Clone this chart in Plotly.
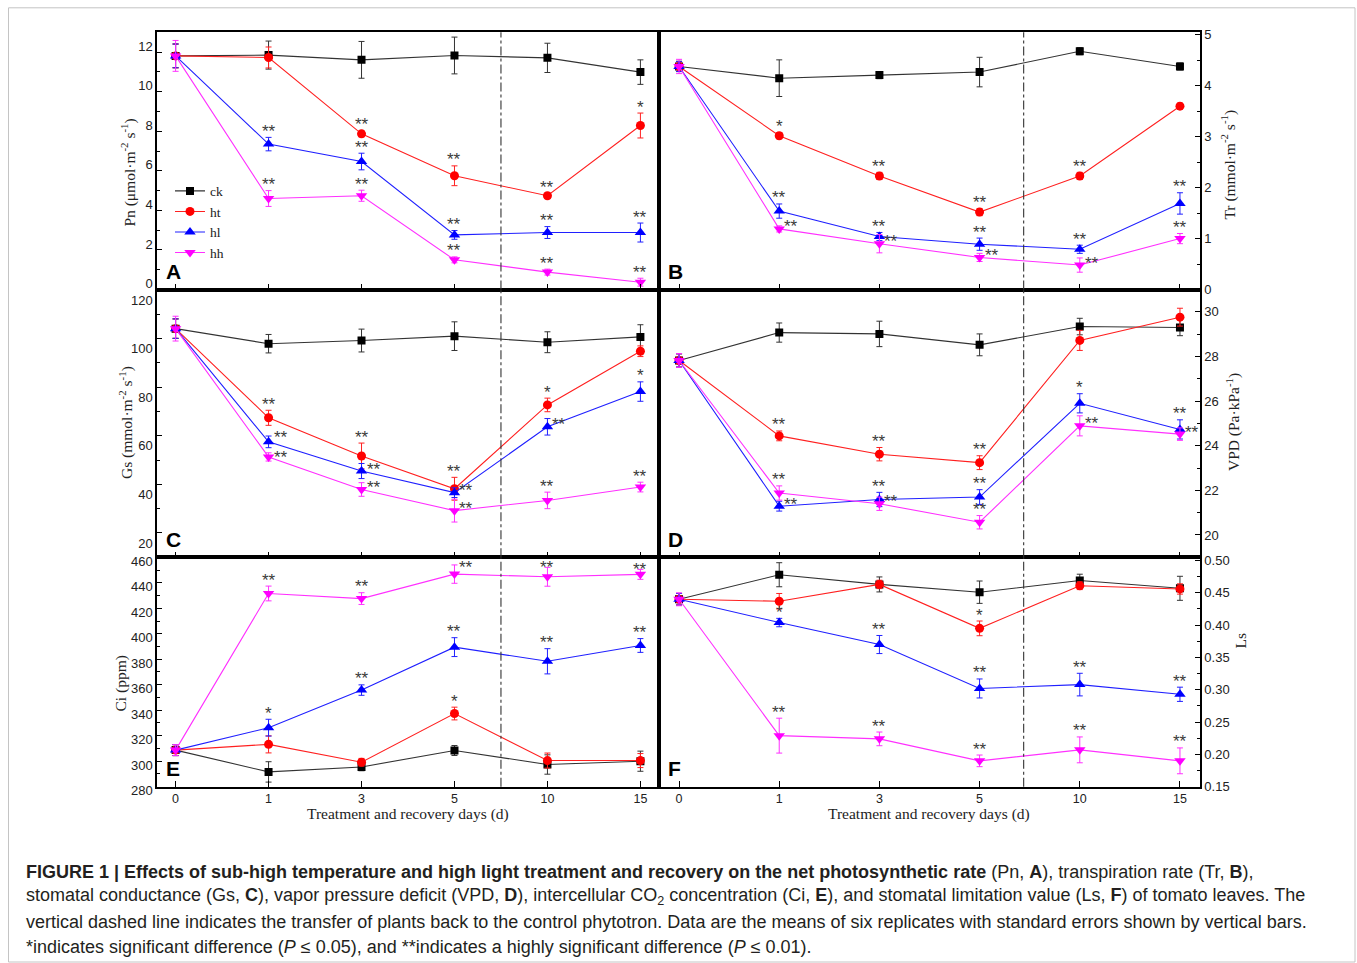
import plotly.graph_objects as go

# ---------------- data ----------------
days = ["0", "1", "3", "5", "10", "15"]
treatments = ["ck", "ht", "hl", "hh"]

# Pn (umol m-2 s-1)
pn_ck = [11.81, 11.85, 11.61, 11.83, 11.71, 10.99]
pn_ht = [11.81, 11.73, 7.87, 5.75, 4.74, 8.29]
pn_hl = [11.81, 7.35, 6.47, 2.76, 2.88, 2.88]
pn_hh = [11.81, 4.60, 4.74, 1.50, 0.88, 0.37]
pn_ck_se = [0.60, 0.71, 0.93, 0.93, 0.74, 0.62]
pn_ht_se = [0.60, 0.53, 0.15, 0.50, 0.13, 0.63]
pn_hl_se = [0.60, 0.34, 0.42, 0.22, 0.30, 0.48]
pn_hh_se = [0.78, 0.40, 0.28, 0.15, 0.15, 0.20]
pn_ht_sig = ["", "", "**", "**", "**", "*"]
pn_hl_sig = ["", "**", "**", "**", "**", "**"]
pn_hh_sig = ["", "**", "**", "**", "**", "**"]

# Tr (mmol m-2 s-1)
tr_ck = [4.38, 4.15, 4.21, 4.27, 4.68, 4.38]
tr_ht = [4.38, 3.02, 2.23, 1.52, 2.23, 3.60]
tr_hl = [4.38, 1.54, 1.04, 0.89, 0.79, 1.69]
tr_hh = [4.38, 1.19, 0.90, 0.63, 0.48, 1.00]
tr_ck_se = [0.10, 0.36, 0.07, 0.29, 0.07, 0.07]
tr_ht_se = [0.10, 0.06, 0.07, 0.07, 0.07, 0.06]
tr_hl_se = [0.10, 0.14, 0.08, 0.12, 0.08, 0.21]
tr_hh_se = [0.14, 0.06, 0.18, 0.08, 0.14, 0.10]
tr_ht_sig = ["", "*", "**", "**", "**", ""]
tr_hl_sig = ["", "**", "**", "**", "**", "**"]
tr_hh_sig = ["", "**", "**", "**", "**", "**"]

# Gs (mmol m-2 s-1)
gs_ck = [104.1, 97.9, 99.2, 101.0, 98.5, 100.7]
gs_ht = [104.1, 67.4, 51.7, 38.2, 72.7, 94.8]
gs_hl = [104.1, 57.5, 45.5, 36.6, 63.7, 78.2]
gs_hh = [104.1, 51.3, 37.9, 29.2, 33.4, 38.9]
gs_ck_se = [4.0, 3.8, 4.7, 5.9, 4.3, 5.0]
gs_ht_se = [4.0, 3.1, 5.3, 4.7, 2.8, 2.2]
gs_hl_se = [4.0, 2.4, 3.1, 2.0, 3.4, 4.0]
gs_hh_se = [5.1, 1.7, 2.8, 4.7, 3.4, 2.0]
gs_ht_sig = ["", "**", "**", "**", "*", ""]
gs_hl_sig = ["", "**", "**", "**", "**", "*"]
gs_hh_sig = ["", "**", "**", "**", "**", "**"]

# VPD (Pa kPa-1)
vpd_ck = [27.82, 29.07, 29.01, 28.52, 29.34, 29.30]
vpd_ht = [27.82, 24.44, 23.62, 23.24, 28.72, 29.76]
vpd_hl = [27.82, 21.29, 21.59, 21.70, 25.90, 24.73]
vpd_hh = [27.82, 21.88, 21.40, 20.57, 24.89, 24.52]
vpd_ck_se = [0.30, 0.43, 0.57, 0.49, 0.37, 0.37]
vpd_ht_se = [0.30, 0.22, 0.30, 0.31, 0.45, 0.40]
vpd_hl_se = [0.30, 0.22, 0.32, 0.33, 0.43, 0.43]
vpd_hh_se = [0.31, 0.32, 0.30, 0.30, 0.45, 0.28]
vpd_ht_sig = ["", "**", "**", "**", "", ""]
vpd_hl_sig = ["", "**", "**", "**", "*", "**"]
vpd_hh_sig = ["", "**", "**", "**", "**", "**"]

# Ci (ppm)
ci_ck = [308.7, 291.6, 295.5, 308.4, 297.4, 300.0]
ci_ht = [308.7, 313.2, 299.2, 337.4, 300.5, 300.5]
ci_hl = [308.7, 326.3, 355.8, 389.5, 378.4, 390.8]
ci_hh = [308.7, 431.6, 427.6, 446.8, 444.7, 446.6]
ci_ck_se = [4.3, 8.0, 3.0, 3.9, 7.6, 7.9]
ci_ht_se = [4.3, 6.7, 3.0, 5.0, 5.9, 5.5]
ci_hl_se = [4.3, 6.6, 4.1, 7.4, 9.9, 5.4]
ci_hh_se = [4.3, 5.8, 4.6, 7.2, 7.4, 3.9]
ci_ht_sig = ["", "", "", "*", "", ""]
ci_hl_sig = ["", "*", "**", "**", "**", "**"]
ci_hh_sig = ["", "**", "**", "**", "**", "**"]

# Ls
ls_ck = [0.440, 0.478, 0.463, 0.451, 0.469, 0.457]
ls_ht = [0.440, 0.437, 0.463, 0.395, 0.461, 0.456]
ls_hl = [0.440, 0.404, 0.370, 0.302, 0.308, 0.293]
ls_hh = [0.440, 0.229, 0.224, 0.190, 0.207, 0.190]
ls_ck_se = [0.009, 0.0186, 0.0116, 0.0173, 0.0098, 0.0186]
ls_ht_se = [0.009, 0.012, 0.0065, 0.0114, 0.006, 0.008]
ls_hl_se = [0.009, 0.0065, 0.014, 0.0147, 0.0175, 0.011]
ls_hh_se = [0.010, 0.027, 0.0106, 0.009, 0.020, 0.020]
ls_ht_sig = ["", "", "", "*", "", ""]
ls_hl_sig = ["", "*", "**", "**", "**", "**"]
ls_hh_sig = ["", "**", "**", "**", "**", "**"]

# ---------------- style / layout ----------------
W, H = 1357, 963
# vertical correction observed for the capture of this page
V_SCALE, V_OFF = 0.9806, 5.7


def PX(x):
    return x / W


def PY(y):
    return 1 - ((y - V_OFF) / V_SCALE) / H


COLORS = {"ck": "#000000", "ht": "#ff0000", "hl": "#0000ff", "hh": "#ff00ff"}
LINECOL = {"ck": "#333333", "ht": "#ff2020", "hl": "#2020ff", "hh": "#ff30ff"}
SYMBOLS = {"ck": "square", "ht": "circle", "hl": "triangle-up", "hh": "triangle-down"}
MSIZE = {"ck": 8, "ht": 9, "hl": 10, "hh": 10}

COLS = [(157, 659), (659, 1200)]
ROWS = [(33, 289.7), (289.7, 557), (557, 786)]

SERIF = "Liberation Serif, Times New Roman, serif"
SANS = "Liberation Sans, Arial, sans-serif"

panels = [
    dict(key="A", col=0, row=0, rng=[0, 13], dtick=2, minor=1, fmt="", lshift=-6,
         means=[pn_ck, pn_ht, pn_hl, pn_hh], ses=[pn_ck_se, pn_ht_se, pn_hl_se, pn_hh_se],
         sig={"ht": pn_ht_sig, "hl": pn_hl_sig, "hh": pn_hh_sig},
         title="Pn (μmol·m<sup>-2</sup> s<sup>-1</sup>)", tpos=(129, 173), dash=3.5),
    dict(key="B", col=1, row=0, rng=[0, 5.05], dtick=1, minor=0.5, fmt="", lshift=0,
         means=[tr_ck, tr_ht, tr_hl, tr_hh], ses=[tr_ck_se, tr_ht_se, tr_hl_se, tr_hh_se],
         sig={"ht": tr_ht_sig, "hl": tr_hl_sig, "hh": tr_hh_sig},
         title="Tr (mmol·m<sup>-2</sup> s<sup>-1</sup>)", tpos=(1229, 165), dash=3.44),
    dict(key="C", col=0, row=1, rng=[10, 120.2], dtick=20, minor=10, fmt="", lshift=10,
         means=[gs_ck, gs_ht, gs_hl, gs_hh], ses=[gs_ck_se, gs_ht_se, gs_hl_se, gs_hh_se],
         sig={"ht": gs_ht_sig, "hl": gs_hl_sig, "hh": gs_hh_sig},
         title="Gs (mmol·m<sup>-2</sup> s<sup>-1</sup>)", tpos=(126, 423), dash=3.5),
    dict(key="D", col=1, row=1, rng=[19, 31], dtick=2, minor=1, fmt="", lshift=0,
         means=[vpd_ck, vpd_ht, vpd_hl, vpd_hh], ses=[vpd_ck_se, vpd_ht_se, vpd_hl_se, vpd_hh_se],
         sig={"ht": vpd_ht_sig, "hl": vpd_hl_sig, "hh": vpd_hh_sig},
         title="VPD (Pa·kPa<sup>-1</sup>)", tpos=(1233, 422), dash=3.44),
    dict(key="E", col=0, row=2, rng=[280, 460], dtick=20, minor=10, fmt="", lshift=4,
         means=[ci_ck, ci_ht, ci_hl, ci_hh], ses=[ci_ck_se, ci_ht_se, ci_hl_se, ci_hh_se],
         sig={"ht": ci_ht_sig, "hl": ci_hl_sig, "hh": ci_hh_sig},
         title="Ci (ppm)", tpos=(121, 683), dash=3.5),
    dict(key="F", col=1, row=2, rng=[0.15, 0.505], dtick=0.05, minor=0.025, fmt=".2f", lshift=0,
         means=[ls_ck, ls_ht, ls_hl, ls_hh], ses=[ls_ck_se, ls_ht_se, ls_hl_se, ls_hh_se],
         sig={"ht": ls_ht_sig, "hl": ls_hl_sig, "hh": ls_hh_sig},
         title="Ls", tpos=(1240, 640), dash=3.44),
]

# significance marks drawn to the right of the marker instead of above it
RIGHT = {
    "B": {("hh", 1), ("hh", 2), ("hh", 3), ("hh", 4)},
    "C": {("hl", 1), ("hl", 2), ("hl", 3), ("hl", 4), ("hh", 1), ("hh", 2), ("hh", 3)},
    "D": {("hl", 1), ("hh", 2), ("hh", 4), ("hh", 5)},
    "E": {("hh", 3)},
}
# per-mark vertical nudges (pixels)
YSHIFT = {("E", "hh", 3): 7, ("E", "hh", 4): 0, ("E", "hh", 5): 0,
          ("C", "hl", 1): 4, ("C", "hh", 1): -1}
SIGFONT = dict(family=SANS, size=17, color="#3a3a3a")

fig = go.Figure()
annotations = []
shapes = []
layout = {}

for i, p in enumerate(panels, start=1):
    xa = "x" if i == 1 else f"x{i}"
    ya = "y" if i == 1 else f"y{i}"
    x0, x1 = COLS[p["col"]]
    t, b = ROWS[p["row"]]
    xdom = [PX(x0), PX(x1)]
    ydom = [PY(b), PY(t)]
    bottom_row = p["row"] == 2

    layout["xaxis" if i == 1 else f"xaxis{i}"] = dict(
        domain=xdom, anchor=ya, type="category", categoryorder="array", categoryarray=days,
        range=[-0.2, 5.2], showline=True, mirror=True, linecolor="black", linewidth=1.5,
        ticks="inside", ticklen=6, tickwidth=1.2, tickcolor="black",
        showticklabels=bottom_row, tickfont=dict(family=SANS, size=12.5, color="#222"),
        showgrid=False, zeroline=False, fixedrange=True,
    )
    side = "left" if p["col"] == 0 else "right"
    layout["yaxis" if i == 1 else f"yaxis{i}"] = dict(
        domain=ydom, anchor=xa, side=side, range=p["rng"], dtick=p["dtick"], tick0=0,
        tickformat=p["fmt"], showline=True, mirror=True, linecolor="black", linewidth=1.5,
        ticks="inside", ticklen=5, tickwidth=1.2, tickcolor="black",
        ticklabelshift=p["lshift"],
        minor=dict(ticks="inside", ticklen=3, dtick=p["minor"], tick0=0, tickcolor="black", showgrid=False),
        tickfont=dict(family=SANS, size=13, color="#222"),
        showgrid=False, zeroline=False, fixedrange=True,
    )

    for tr, m, s in zip(treatments, p["means"], p["ses"]):
        fig.add_trace(go.Scatter(
            x=days, y=m, xaxis=xa, yaxis=ya, name=tr, mode="lines+markers",
            line=dict(color=LINECOL[tr], width=1.1),
            marker=dict(symbol=SYMBOLS[tr], size=MSIZE[tr], color=COLORS[tr], line=dict(width=0)),
            error_y=dict(type="data", array=s, visible=True, color=LINECOL[tr], thickness=1, width=3),
            showlegend=(i == 1), legendgroup=tr,
        ))

    # significance marks (x given as category index)
    right = RIGHT.get(p["key"], set())
    for tr, m, s in zip(treatments, p["means"], p["ses"]):
        if tr not in p["sig"]:
            continue
        for j, mark in enumerate(p["sig"][tr]):
            if not mark:
                continue
            if (tr, j) in right:
                annotations.append(dict(x=j, y=m[j], xref=xa, yref=ya, text=mark,
                                        showarrow=False, xanchor="left", yanchor="middle",
                                        xshift=3, yshift=YSHIFT.get((p["key"], tr, j), 2),
                                        font=SIGFONT))
            else:
                annotations.append(dict(x=j, y=m[j] + s[j], xref=xa, yref=ya, text=mark,
                                        showarrow=False, xanchor="center", yanchor="middle",
                                        yshift=YSHIFT.get((p["key"], tr, j), 6), font=SIGFONT))

    # dash-dot separator (transfer back to control)
    shapes.append(dict(type="line", xref=xa, yref=f"{ya} domain", x0=p["dash"], x1=p["dash"],
                       y0=0, y1=1, line=dict(color="#333333", width=1.1, dash="dashdot")))

    # panel letter
    annotations.append(dict(x=PX(x0 + 7), y=PY(b - 18), xref="paper", yref="paper",
                            text=f"<b>{p['key']}</b>", showarrow=False, xanchor="left",
                            yanchor="middle", font=dict(family=SANS, size=21, color="black")))
    # axis title
    tx, ty = p["tpos"]
    annotations.append(dict(x=PX(tx), y=PY(ty), xref="paper", yref="paper", text=p["title"],
                            showarrow=False, textangle=-90, xanchor="center", yanchor="middle",
                            font=dict(family=SERIF, size=15.5, color="#222")))

for cx in [(COLS[0][0] + COLS[0][1]) / 2, (COLS[1][0] + COLS[1][1]) / 2]:
    annotations.append(dict(x=PX(cx), y=PY(813), xref="paper", yref="paper",
                            text="Treatment and recovery days (d)", showarrow=False,
                            xanchor="center", yanchor="middle",
                            font=dict(family=SERIF, size=15.5, color="#222")))

caption = [
    "<b>FIGURE 1 | Effects of sub-high temperature and high light treatment and recovery on the net photosynthetic rate</b> (Pn, <b>A</b>), transpiration rate (Tr, <b>B</b>),",
    "stomatal conductance (Gs, <b>C</b>), vapor pressure deficit (VPD, <b>D</b>), intercellular CO<sub>2</sub> concentration (Ci, <b>E</b>), and stomatal limitation value (Ls, <b>F</b>) of tomato leaves. The",
    "vertical dashed line indicates the transfer of plants back to the control phytotron. Data are the means of six replicates with standard errors shown by vertical bars.",
    "*indicates significant difference (<i>P</i> ≤ 0.05), and **indicates a highly significant difference (<i>P</i> ≤ 0.01).",
]
for k, line in enumerate(caption):
    annotations.append(dict(x=PX(24), y=PY(871 + 25 * k), xref="paper", yref="paper",
                            text=line, showarrow=False, xanchor="left", yanchor="middle",
                            font=dict(family="Liberation Sans Narrow, Arial Narrow, Liberation Sans, sans-serif",
                                      size=18, color="#231f20")))

shapes.append(dict(type="rect", xref="paper", yref="paper", x0=PX(8.5), x1=PX(1355),
                   y0=PY(961), y1=PY(8.5), line=dict(color="#c4c4c4", width=1)))

fig.update_layout(
    width=W, height=H, margin=dict(l=0, r=0, t=0, b=0),
    paper_bgcolor="white", plot_bgcolor="white",
    showlegend=True,
    legend=dict(x=PX(170), y=PY(176), xanchor="left", yanchor="top",
                bgcolor="rgba(0,0,0,0)", font=dict(family=SERIF, size=13.5, color="#222"),
                tracegroupgap=0, itemwidth=30),
    annotations=annotations, shapes=shapes,
    **layout,
)

fig.write_html(
    "out.html",
    config={"displayModeBar": False},
    post_script=("document.documentElement.style.margin='0';document.body.style.margin='0';"
                 "document.documentElement.style.overflow='hidden';document.body.style.overflow='hidden';"),
)
